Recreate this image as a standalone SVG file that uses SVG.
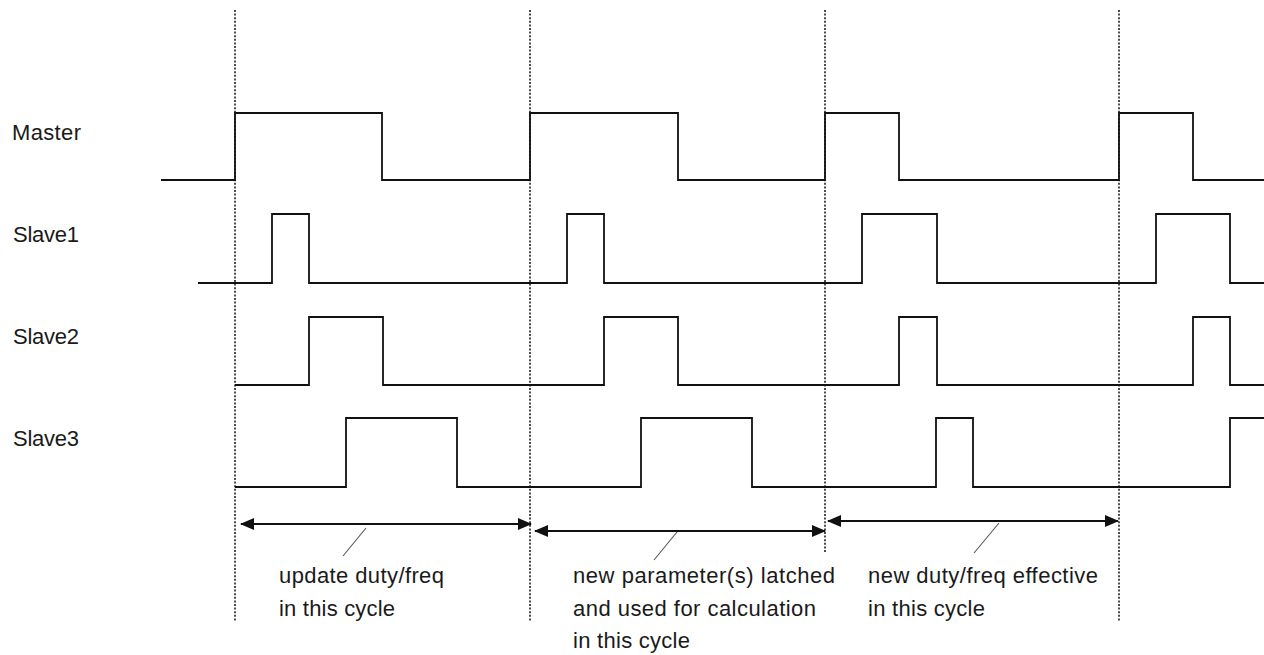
<svg xmlns="http://www.w3.org/2000/svg" width="1264" height="655" viewBox="0 0 1264 655">
<style>
  .lbl { font-family: "Liberation Sans", Arial, sans-serif; font-size: 22px; fill: #1a1a1a; }
  .sig { fill: none; stroke: #111; stroke-width: 1.8; }
  .dot { stroke: #111; stroke-width: 1.5; stroke-dasharray: 2 1.6; fill: none; }
  .arr { stroke: #111; stroke-width: 1.8; fill: none; marker-start: url(#ah); marker-end: url(#ah); }
  .lead { stroke: #555; stroke-width: 1.1; fill: none; }
</style>
<defs>
  <marker id="ah" viewBox="0 0 14 12" refX="13" refY="6" markerWidth="14" markerHeight="12" markerUnits="userSpaceOnUse" orient="auto-start-reverse">
    <path d="M0,0 L14,6 L0,12 Z" fill="#111"/>
  </marker>
</defs>
<rect width="1264" height="655" fill="#fff"/>

<g id="gridlines">
  <line class="dot" x1="235" y1="10" x2="235" y2="622"/>
  <line class="dot" x1="530" y1="10" x2="530" y2="622"/>
  <line class="dot" x1="825" y1="10" x2="825" y2="553"/>
  <line class="dot" x1="1119" y1="10" x2="1119" y2="622"/>
</g>

<g id="master">
  <text class="lbl" x="12" y="140" textLength="69" lengthAdjust="spacing">Master</text>
  <polyline class="sig" points="161,180 235,180 235,113 382,113 382,180 530,180 530,113 678,113 678,180 825,180 825,113 899,113 899,180 1119,180 1119,113 1193,113 1193,180 1264,180"/>
</g>

<g id="slave1">
  <text class="lbl" x="13" y="242" textLength="66" lengthAdjust="spacing">Slave1</text>
  <polyline class="sig" points="198,283 272,283 272,214 309,214 309,283 567,283 567,214 604,214 604,283 862,283 862,214 937,214 937,283 1156,283 1156,214 1230,214 1230,283 1264,283"/>
</g>

<g id="slave2">
  <text class="lbl" x="13" y="344" textLength="66" lengthAdjust="spacing">Slave2</text>
  <polyline class="sig" points="235,385 309,385 309,317 383,317 383,385 604,385 604,317 678,317 678,385 899,385 899,317 937,317 937,385 1193,385 1193,317 1230,317 1230,385 1264,385"/>
</g>

<g id="slave3">
  <text class="lbl" x="13" y="446" textLength="66" lengthAdjust="spacing">Slave3</text>
  <polyline class="sig" points="235,487 346,487 346,418 457,418 457,487 641,487 641,418 752,418 752,487 936,487 936,418 973,418 973,487 1230,487 1230,418 1264,418"/>
</g>

<g id="connectors">
  <line class="arr" x1="241" y1="524" x2="531" y2="524"/>
  <line class="lead" x1="366" y1="528" x2="343" y2="556"/>
  <line class="arr" x1="535" y1="531" x2="825" y2="531"/>
  <line class="lead" x1="677" y1="532" x2="654" y2="560"/>
  <line class="arr" x1="828" y1="521" x2="1118" y2="521"/>
  <line class="lead" x1="999" y1="523" x2="974" y2="553"/>
</g>

<g id="note1">
  <text class="lbl" x="279" y="583" textLength="165" lengthAdjust="spacing">update duty/freq</text>
  <text class="lbl" x="279" y="616" textLength="116" lengthAdjust="spacing">in this cycle</text>
</g>
<g id="note2">
  <text class="lbl" x="573" y="583" textLength="262" lengthAdjust="spacing">new parameter(s) latched</text>
  <text class="lbl" x="573" y="616" textLength="243" lengthAdjust="spacing">and used for calculation</text>
  <text class="lbl" x="573" y="648" textLength="117" lengthAdjust="spacing">in this cycle</text>
</g>
<g id="note3">
  <text class="lbl" x="868" y="583" textLength="230" lengthAdjust="spacing">new duty/freq effective</text>
  <text class="lbl" x="868" y="616" textLength="117" lengthAdjust="spacing">in this cycle</text>
</g>
</svg>
